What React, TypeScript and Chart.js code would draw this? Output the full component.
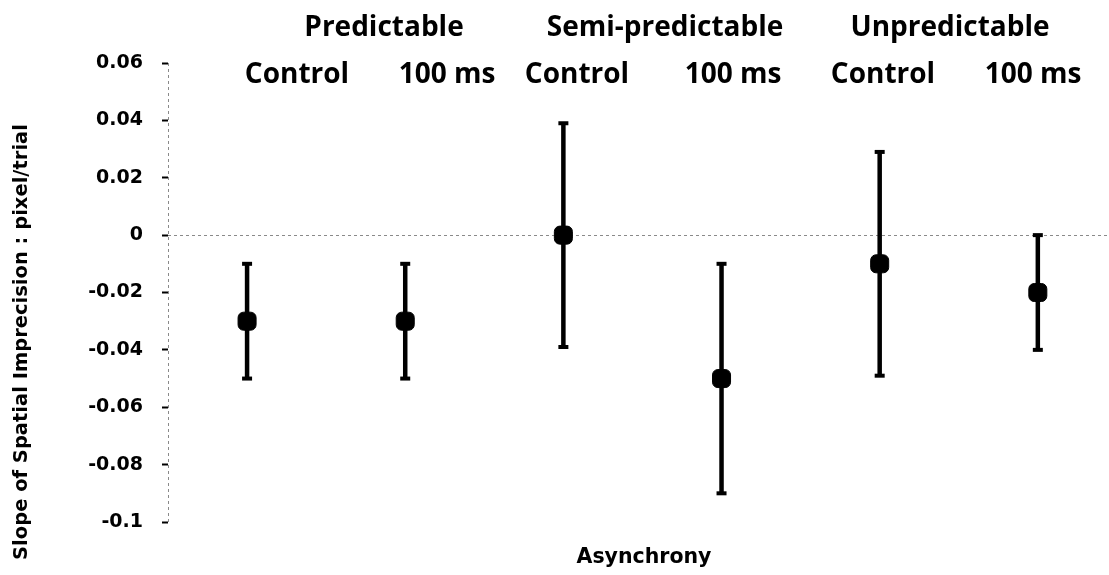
import React, { useEffect, useRef } from "react";
import { Chart, registerables } from "chart.js";

Chart.register(...registerables);

// Conditions along the horizontal axis, grouped by predictability
const groups = ["Predictable", "Semi-predictable", "Unpredictable"];
const conditions = ["Control", "100 ms", "Control", "100 ms", "Control", "100 ms"];

// Mean slope of spatial imprecision (pixel/trial) and its error half-width
const slopes = [-0.03, -0.03, 0, -0.05, -0.01, -0.02];
const errors = [0.02, 0.02, 0.039, 0.04, 0.039, 0.02];

// Tick values of the vertical axis
const yTicks = [-0.1, -0.08, -0.06, -0.04, -0.02, 0, 0.02, 0.04, 0.06];

const yTitle = "Slope of Spatial Imprecision : pixel/trial";
const xTitle = "Asynchrony";

// Header text layout (centres in canvas pixels)
const groupLabelX = [384, 665, 950];
const groupLabelBaseline = 36;
const conditionLabelX = [297, 447, 577, 733, 883, 1033];
const conditionLabelBaseline = 83;

const headerFont = "bold 28px 'Open Sans'";
const axisFont = "DejaVu Sans";

const annotations = {
  id: "annotations",
  beforeDatasetsDraw(chart: any) {
    const { ctx, chartArea, scales } = chart;
    const y = scales.y;
    const zeroY = Math.round(y.getPixelForValue(0)) + 0.5;
    ctx.save();
    ctx.strokeStyle = "#8a8a8a";
    ctx.lineWidth = 1;
    ctx.setLineDash([3, 3]);
    // zero reference line
    ctx.beginPath();
    ctx.moveTo(chartArea.left, zeroY);
    ctx.lineTo(chartArea.right, zeroY);
    ctx.stroke();
    // vertical axis line
    const ax = Math.round(chartArea.left) + 0.5;
    ctx.beginPath();
    ctx.moveTo(ax, chartArea.top);
    ctx.lineTo(ax, chartArea.bottom);
    ctx.stroke();
    ctx.restore();
  },
  afterDraw(chart: any) {
    const { ctx } = chart;
    ctx.save();
    ctx.fillStyle = "#000";
    ctx.textAlign = "center";
    ctx.textBaseline = "alphabetic";
    ctx.font = headerFont;
    groups.forEach((g, i) => ctx.fillText(g, groupLabelX[i], groupLabelBaseline));
    conditions.forEach((c, i) => ctx.fillText(c, conditionLabelX[i], conditionLabelBaseline));

    // axis titles
    ctx.font = `bold 20.5px '${axisFont}'`;
    ctx.textBaseline = "middle";
    ctx.fillText(xTitle, 644, 558);

    ctx.font = `bold 19.5px '${axisFont}'`;
    ctx.translate(22, 342);
    ctx.rotate(-Math.PI / 2);
    ctx.fillText(yTitle, 0, 0);
    ctx.restore();
  },
};

export default function App() {
  const canvasRef = useRef<HTMLCanvasElement | null>(null);

  useEffect(() => {
    const canvas = canvasRef.current;
    if (!canvas) return;

    const whiskers: any[] = [];
    const caps: any[] = [];
    const means: any[] = [];
    slopes.forEach((m, i) => {
      const x = i + 1;
      whiskers.push({ x, y: m - errors[i] }, { x, y: m + errors[i] }, { x, y: null });
      caps.push({ x, y: m - errors[i] }, { x, y: m + errors[i] });
      means.push({ x, y: m });
    });

    const chart = new Chart(canvas, {
      type: "scatter",
      data: {
        datasets: [
          {
            type: "line",
            data: whiskers,
            borderColor: "#000",
            borderWidth: 4.5,
            pointRadius: 0,
            spanGaps: false,
            order: 3,
          } as any,
          {
            data: caps,
            pointStyle: "line",
            pointRadius: 5,
            borderColor: "#000",
            pointBorderWidth: 4,
            backgroundColor: "#000",
            order: 2,
          },
          {
            data: means,
            pointStyle: "rectRounded",
            pointRadius: 10.5,
            backgroundColor: "#000",
            borderColor: "#000",
            pointBorderWidth: 1,
            order: 1,
          },
        ],
      },
      options: {
        animation: false,
        responsive: true,
        maintainAspectRatio: false,
        layout: { autoPadding: false, padding: { top: 63, bottom: 53, left: 0, right: 0 } },
        plugins: {
          legend: { display: false },
          tooltip: { enabled: false },
        },
        scales: {
          x: {
            type: "linear",
            min: 0.5,
            max: 6.45,
            display: false,
          },
          y: {
            min: -0.1,
            max: 0.06,
            afterFit: (s: any) => {
              s.width = 168;
            },
            afterBuildTicks: (s: any) => {
              s.ticks = yTicks.map((v) => ({ value: v }));
            },
            border: { display: false },
            grid: {
              drawOnChartArea: false,
              drawTicks: true,
              tickLength: 6,
              tickWidth: 2,
              tickColor: "#000",
              color: "transparent",
            },
            ticks: {
              padding: 19,
              color: "#000",
              font: { family: axisFont, size: 19, weight: "bold" },
              callback: (v: any) => String(parseFloat(Number(v).toFixed(2))),
            },
          },
        },
      },
      plugins: [annotations],
    });

    return () => chart.destroy();
  }, []);

  return (
    <div style={{ position: "absolute", left: 0, top: 0, width: 1109, height: 575, background: "#fff" }}>
      <canvas ref={canvasRef} />
    </div>
  );
}
